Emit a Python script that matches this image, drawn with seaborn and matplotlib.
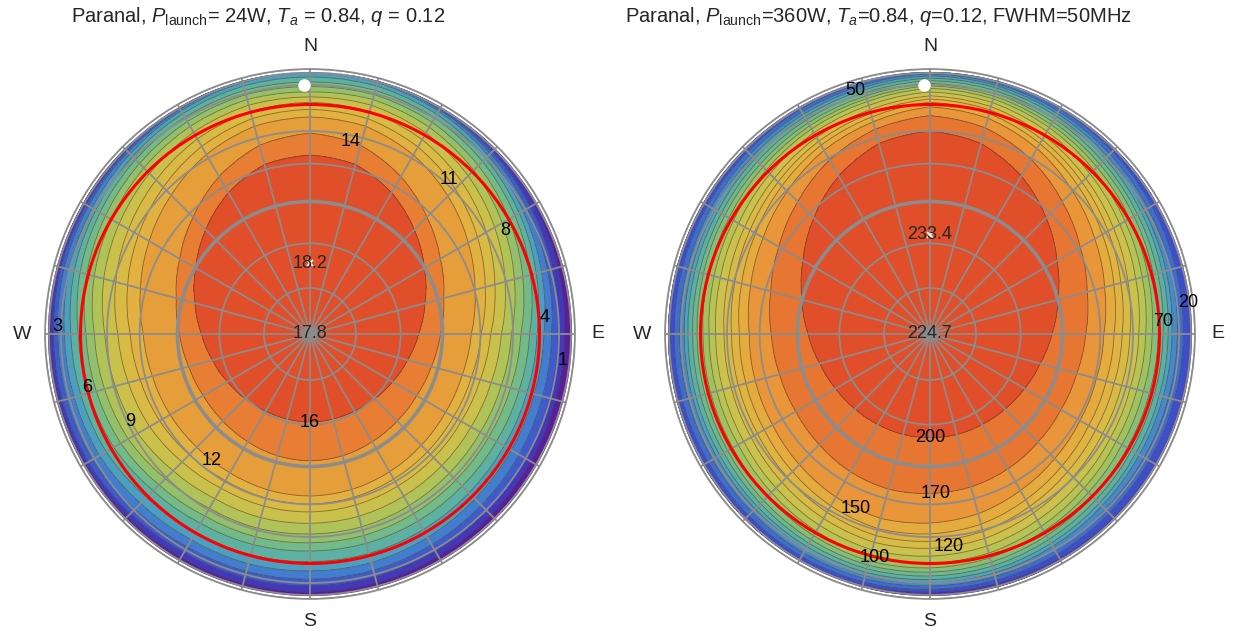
import numpy as np
import matplotlib
matplotlib.use("Agg")
import matplotlib.pyplot as plt
import matplotlib.tri as mtri
from matplotlib.patches import Circle
import seaborn as sns

sns.set_style("white")
plt.rcParams['font.family'] = ['Liberation Sans', 'DejaVu Sans']
plt.rcParams['mathtext.fontset'] = 'custom'
plt.rcParams['mathtext.rm'] = 'Liberation Sans'
plt.rcParams['mathtext.it'] = 'Liberation Sans:italic'

# -------------------------------
# data:
# zenith angle (deg) where each contour crosses azimuth 0, 15, ..., 345 (N=0, E=90)
# -------------------------------
azimuth = list(range(0, 360, 15))

levels_24w = [16, 14, 12, 11, 10, 9, 8, 7, 6, 5, 4, 3, 2, 1]
rings_24w = [
    [42.5, 41.5, 38.0, 33.8, 29.9, 26.7, 24.2, 22.4, 21.1, 20.2, 19.6, 19.4, 19.4, 19.4, 19.6, 20.2, 21.1, 22.4, 24.2, 26.7, 29.9, 33.8, 38.0, 41.5],
    [49.3, 47.5, 43.3, 38.6, 34.6, 31.5, 29.5, 28.3, 27.7, 27.7, 28.0, 28.4, 28.6, 28.4, 28.0, 27.7, 27.7, 28.3, 29.5, 31.5, 34.6, 38.6, 43.3, 47.5],
    [55.0, 54.25, 51.3, 47.4, 43.6, 40.15, 37.5, 36.5, 36.2, 36.4, 36.9, 37.4, 37.7, 37.55, 37.2, 37.15, 37.55, 38.0, 39.0, 41.5, 44.5, 47.85, 51.45, 54.25],
    [58.0, 57.3, 54.6, 50.8, 46.9, 43.2, 40.25, 39.1, 38.7, 38.85, 39.2, 39.65, 39.95, 39.9, 39.7, 40.1, 40.95, 41.6, 42.75, 45.45, 48.4, 51.55, 54.85, 57.3],
    [61.0, 60.35, 57.9, 54.2, 50.2, 46.25, 43.0, 41.7, 41.2, 41.3, 41.5, 41.9, 42.2, 42.25, 42.2, 43.05, 44.35, 45.2, 46.5, 49.4, 52.3, 55.25, 58.25, 60.35],
    [63.5, 63.4, 61.1, 57.6, 53.6, 49.65, 46.25, 45.05, 44.55, 44.65, 44.95, 45.4, 45.6, 45.85, 45.85, 46.9, 48.6, 49.55, 50.75, 53.7, 56.3, 58.95, 61.55, 63.4],
    [66.0, 66.4, 64.3, 60.9, 56.9, 53.0, 49.5, 48.4, 47.9, 48.0, 48.4, 48.9, 49.0, 49.4, 49.4, 50.5, 52.4, 53.4, 54.5, 57.5, 59.9, 62.4, 64.8, 66.4],
    [69.0, 69.3, 67.3, 64.0, 60.1, 56.25, 52.75, 51.6, 51.1, 51.15, 51.5, 51.9, 52.0, 52.4, 52.5, 53.65, 55.6, 56.6, 57.75, 60.75, 63.1, 65.5, 67.8, 69.3],
    [72.0, 72.2, 70.3, 67.1, 63.3, 59.5, 56.0, 54.8, 54.3, 54.3, 54.6, 54.9, 55.0, 55.4, 55.6, 56.8, 58.8, 59.8, 61.0, 64.0, 66.3, 68.6, 70.8, 72.2],
    [76.0, 75.75, 73.2, 69.6, 65.8, 62.15, 59.0, 58.0, 57.75, 58.0, 58.55, 59.1, 59.2, 59.65, 59.65, 60.75, 62.7, 63.5, 64.5, 67.1, 69.1, 71.25, 73.75, 75.75],
    [80.0, 79.3, 76.1, 72.1, 68.2, 64.8, 62.0, 61.2, 61.2, 61.7, 62.5, 63.3, 63.4, 63.9, 63.7, 64.7, 66.6, 67.2, 68.0, 70.2, 71.8, 73.9, 76.7, 79.3],
    [84.0, 81.4, 78.0, 74.55, 71.05, 68.15, 65.75, 65.35, 65.6, 66.1, 66.75, 67.4, 67.7, 68.05, 68.05, 69.35, 71.45, 71.85, 72.25, 74.0, 74.95, 76.5, 78.65, 81.4],
    [88.0, 83.5, 79.9, 77.0, 73.9, 71.5, 69.5, 69.5, 70.0, 70.5, 71.0, 71.5, 72.0, 72.1, 72.2, 73.5, 75.4, 75.5, 75.5, 76.9, 77.5, 78.8, 80.5, 83.5],
    [89.5, 88.25, 84.4, 81.0, 77.9, 75.75, 74.0, 73.8, 74.2, 75.0, 75.8, 76.5, 77.0, 77.0, 76.8, 77.5, 78.7, 78.8, 79.0, 80.25, 80.9, 82.5, 84.9, 88.25],
]

levels_360w = [200, 170, 150, 140, 130, 120, 110, 100, 90, 80, 70, 60, 50, 40, 30, 20, 10]
rings_360w = [
    [50, 48.1, 43.5, 38.3, 33.6, 30.0, 27.4, 25.5, 24.3, 23.6, 23.2, 23.1, 23.0, 23.1, 23.2, 23.6, 24.3, 25.5, 27.4, 30.0, 33.6, 38.3, 43.5, 48.1],
    [55.5, 53.7, 49.6, 44.9, 40.9, 37.9, 36.0, 35.0, 34.8, 35.2, 36.0, 36.7, 37.0, 37.3, 36.9, 36.2, 35.8, 36.0, 36.8, 38.5, 41.2, 44.9, 49.3, 53.1],
    [59, 57.5, 53.9, 49.6, 45.9, 43.0, 41, 40.55, 40.8, 41.7, 43.0, 44.6, 45.5, 46.1, 45.25, 44.2, 43.3, 43.05, 43.0, 44.5, 46.65, 49.6, 53.15, 56.0],
    [61, 59.5, 56.1, 52.2, 48.7, 45.9, 44, 43.5, 43.75, 44.75, 46.25, 48, 49, 49.5, 48.5, 47.25, 46.25, 46.0, 46.0, 47.4, 49.45, 52.2, 55.35, 58.0],
    [62.5, 61.1, 57.9, 54.2, 50.9, 48.2, 46.5, 46.0, 46.25, 47.25, 48.75, 50.5, 51.5, 52.0, 51.0, 49.75, 48.75, 48.5, 48.5, 49.7, 51.65, 54.2, 57.15, 59.6],
    [64, 62.7, 59.7, 56.2, 53.1, 50.6, 49, 48.5, 48.75, 49.75, 51.25, 53, 54, 54.5, 53.5, 52.25, 51.25, 51.0, 51.0, 52.1, 53.85, 56.2, 58.95, 61.2],
    [66, 64.8, 62, 58.7, 55.8, 53.5, 52, 51.5, 51.75, 52.75, 54.25, 56, 57, 57.5, 56.5, 55.25, 54.25, 54.0, 54.0, 55.0, 56.55, 58.7, 61.25, 63.3],
    [68, 66.8, 64.1, 61, 58.2, 56, 54.5, 53.95, 54.2, 55.3, 57, 58.9, 60, 60.4, 59.25, 57.8, 56.7, 56.45, 56.5, 57.5, 58.95, 61.0, 63.35, 65.3],
    [69.5, 68.4, 65.9, 63, 60.4, 58.4, 57, 56.5, 56.75, 57.75, 59.25, 61, 62, 62.5, 61.5, 60.25, 59.25, 59.0, 59.0, 59.9, 61.15, 63.0, 65.15, 66.9],
    [71, 70, 67.7, 65, 62.7, 60.75, 59.5, 59.05, 59.3, 60.2, 61.5, 63.1, 64, 64.6, 63.75, 62.7, 61.8, 61.55, 61.5, 62.25, 63.45, 65.0, 66.95, 68.5],
    [73, 72, 69.7, 67.1, 64.7, 62.8, 61.6, 61.2, 61.4, 62.3, 63.6, 65.1, 66, 66.6, 65.85, 64.8, 63.9, 63.7, 63.6, 64.3, 65.45, 67.1, 68.95, 70.5],
    [75, 74.1, 71.9, 69.3, 67, 65.2, 64, 63.6, 63.8, 64.6, 65.8, 67.2, 68, 68.7, 68.05, 67.1, 66.3, 66.1, 66.0, 66.7, 67.75, 69.3, 71.15, 72.6],
    [77, 76.1, 73.9, 71.3, 69, 67.2, 66, 65.6, 65.8, 66.6, 67.8, 69.2, 70, 70.7, 70.05, 69.1, 68.3, 68.1, 68.0, 68.7, 69.75, 71.3, 73.15, 74.6],
    [79, 78.1, 76.1, 73.8, 71.7, 70.1, 69, 68.7, 68.85, 69.45, 70.35, 71.4, 72, 72.9, 72.6, 71.95, 71.35, 71.2, 71.0, 71.6, 72.45, 73.8, 75.35, 76.6],
    [81.5, 80.8, 79.1, 77.1, 75.3, 73.9, 73, 72.85, 72.9, 73.2, 73.7, 74.2, 74.5, 75.7, 75.95, 75.7, 75.4, 75.35, 75.0, 75.4, 76.05, 77.1, 78.35, 79.3],
    [85, 84.5, 83.3, 81.9, 80.6, 79.7, 79, 79.2, 79.1, 78.7, 78.1, 77.4, 77, 78.9, 80.35, 81.2, 81.6, 81.7, 81.0, 81.2, 81.35, 81.9, 82.55, 83.0],
    [89, 88.7, 87.9, 86.9, 86.1, 85.4, 85, 85.5, 85.25, 84.25, 82.75, 81, 80, 82.5, 85.0, 86.75, 87.75, 88.0, 87.0, 86.9, 86.85, 86.9, 87.15, 87.2],
]

center_24w, peak_24w = 17.8, 18.2
center_360w, peak_360w = 224.7, 233.4
horizon_flux = [0, 0]
peak_az = [0, 0]
peak_zen = [15.5, 22]
target_az, target_zen = -1.4, 70

titles = [r"Paranal, $P_{\mathrm{launch}}$= 24W, $T_a$ = 0.84, $q$ = 0.12",
          r"Paranal, $P_{\mathrm{launch}}$=360W, $T_a$=0.84, $q$=0.12, FWHM=50MHz"]

# where the contour labels sit (azimuth deg, zenith deg)
label_spots_24w = [(12, 48), (42, 52), (62, 56), (86, 63), (96, 75), (180, 19),
                   (218, 37.4), (244, 50), (256.6, 59.8), (271.6, 72.7)]
label_spots_360w = [(343, 74), (83, 79), (87, 61.6), (194, 60.6), (175, 54.2),
                    (203, 46.5), (178, 36.9), (180, 22.9)]

anchors = ['#5a1e99', '#3d3fc6', '#3f6fd2', '#4a9bc8', '#5db3a0', '#7dbd80',
           '#a5c35c', '#c9c24e', '#dcb944', '#e4ad3f', '#e98c36', '#e04e2a']


def draw_map(ax, rings, ring_levels, spots, center_val, peak_val, k):
    ax.set_theta_zero_location('N')
    ax.set_theta_direction(-1)
    ax.set_rscale('function', functions=(lambda z: np.sin(np.radians(np.clip(z, 0, 90))),
                                         lambda r: np.degrees(np.arcsin(np.clip(r, 0, 1)))))
    ax.set_rlim(0, 90)

    # mesh in (azimuth, zenith): zenith point, the contour rings, the horizon
    ncol = len(azimuth) + 1
    az = np.radians(azimuth + [360])
    rows_z = [np.zeros(ncol)] + [np.r_[r, r[0]] for r in rings] + [np.full(ncol, 90.0)]
    rows_v = [center_val] + list(ring_levels) + [horizon_flux[k]]
    T = np.tile(az, (len(rows_z), 1))
    Z = np.array(rows_z)
    V = np.repeat(np.array(rows_v, float), ncol)
    tris = []
    for j in range(len(rows_z) - 1):
        for i in range(ncol - 1):
            a = j * ncol + i
            tris += [[a, a + 1, a + ncol + 1], [a, a + ncol + 1, a + ncol]]
    tri = mtri.Triangulation(T.ravel(), Z.ravel(), np.array(tris))
    tri_f, v_f = mtri.UniformTriRefiner(tri).refine_field(
        V, triinterpolator=mtri.LinearTriInterpolator(tri, V), subdiv=2)

    levels = sorted(ring_levels)
    bounds = [-1e4] + levels + [1e4]
    band_colors = sns.blend_palette(anchors, n_colors=len(levels) + 1)
    edge = Circle((0.5, 0.5), 0.5 * np.sin(np.radians(81.5)), transform=ax.transAxes)
    cf = ax.tricontourf(tri_f, v_f, levels=bounds, colors=band_colors, zorder=1)
    cf.set_clip_path(edge)
    cs = ax.tricontour(tri_f, v_f, levels=levels, colors='#4a3a2a',
                       linewidths=0.6, alpha=0.6, zorder=2)
    cs.set_clip_path(edge)
    ax.set_rlim(0, 90)
    manual = [(np.radians(a), z) for a, z in spots]
    ax.clabel(cs, levels=levels, fmt='%g', fontsize=13, colors='k',
              inline=False, manual=manual)
    for t in cs.labelTexts:
        t.set_rotation(0)
        t.set_alpha(1)
        t.set_clip_on(False)

    ax.set_rgrids(list(range(10, 91, 10)), labels=[''] * 9)
    thetas = list(range(0, 360, 15))
    names = {0: 'N', 90: 'E', 180: 'S', 270: 'W'}
    ax.set_thetagrids(thetas, labels=[names.get(t, '') for t in thetas], fontsize=14)
    ax.tick_params(axis='x', pad=6)
    ax.set_axisbelow(False)
    ax.grid(True, color='#8c8c8c', linewidth=1.3)
    glines = ax.yaxis.get_gridlines()
    glines[2].set_linewidth(2.6)
    glines[5].set_color('red')
    glines[5].set_linewidth(2.2)
    ax.spines['polar'].set_color('#8c8c8c')
    ax.spines['polar'].set_linewidth(1.2)

    ax.text(0, 0, f"{center_val}", ha='center', va='center', fontsize=13, zorder=4)
    ax.plot(np.radians(peak_az[k]), peak_zen[k], marker='x', color='white',
            ms=5, mew=1.2, zorder=4)
    ax.text(np.radians(peak_az[k]), peak_zen[k], f"{peak_val}", ha='center',
            va='center', fontsize=13, zorder=5)
    ax.plot(np.radians(target_az), target_zen, 'o', color='white', ms=8, zorder=5)
    ax.set_rlim(0, 90)


fig = plt.figure(figsize=(12.51, 6.38), dpi=100)
ax1 = fig.add_axes([45 / 1251, 39 / 638, 530 / 1251, 530 / 638], projection='polar')
ax2 = fig.add_axes([665 / 1251, 39 / 638, 530 / 1251, 530 / 638], projection='polar')

draw_map(ax1, rings_24w, levels_24w, label_spots_24w, center_24w, peak_24w, 0)
draw_map(ax2, rings_360w, levels_360w, label_spots_360w, center_360w, peak_360w, 1)

fig.text(258 / 1251, 1 - 17 / 638, titles[0], ha='center', va='center', fontsize=14.5)
fig.text(878 / 1251, 1 - 17 / 638, titles[1], ha='center', va='center', fontsize=14.5)

fig.savefig("out.png", dpi=100)
